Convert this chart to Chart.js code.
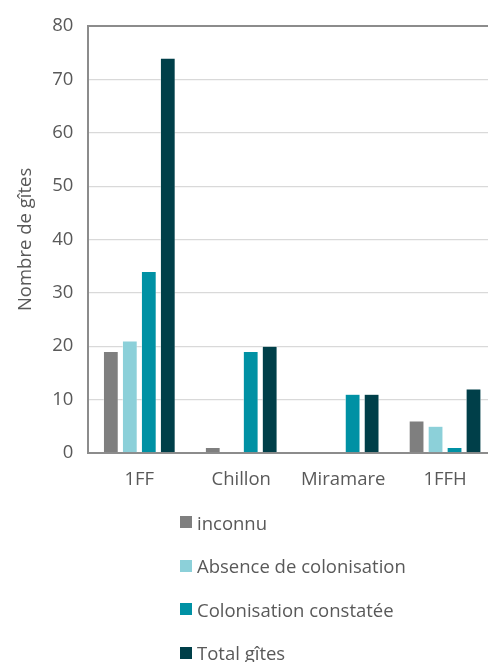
<!DOCTYPE html>
<html>
<head>
<meta charset="utf-8">
<script src="https://cdn.jsdelivr.net/npm/chart.js@4"></script>
<style>
  html, body { margin: 0; padding: 0; background: #fff; overflow: hidden; }
  body { width: 488px; height: 662px; font-family: "Open Sans", sans-serif; position: relative; }
  #wrap { width: 496px; height: 513px; position: absolute; left: 0; top: 0; }
  #legend { list-style: none; margin: 0; padding: 0; position: absolute; left: 180px; top: 509px; }
  #legend li { display: flex; align-items: center; height: 26px; margin-bottom: 17.5px; color: #595959; font-size: 18.5px; }
  #legend span.box { width: 12px; height: 12px; margin-right: 5px; display: inline-block; }
</style>
</head>
<body>
<div id="wrap"><canvas id="chartBars"></canvas></div>
<ul id="legend"></ul>
<script>
const categories = ["1FF", "Chillon", "Miramare", "1FFH"];
const inconnu = [19, 1, 0, 6];
const absence = [21, 0, 0, 5];
const colonisation = [34, 19, 11, 1];
const total = [74, 20, 11, 12];
const seriesNames = ["inconnu", "Absence de colonisation", "Colonisation constatée", "Total gîtes"];
const colors = ["#7f7f7f", "#8cd0d9", "#0091a4", "#003f49"];
const yTicks = [0, 10, 20, 30, 40, 50, 60, 70, 80];

const dataBars = {
    labels: categories,
    datasets: [inconnu, absence, colonisation, total].map((values, i) => ({
        label: seriesNames[i],
        data: values,
        backgroundColor: colors[i],
        borderColor: "#ffffff",
        borderWidth: 0.6,
        categoryPercentage: 0.745,
        barPercentage: 0.79,
    })),
};

const fontMain = { family: "Open Sans", size: 18.5 };

const chart = new Chart(document.getElementById("chartBars"), {
    type: "bar",
    data: dataBars,
    options: {
        responsive: true,
        maintainAspectRatio: false,
        animation: false,
        layout: { padding: { top: 10, left: 15, right: 0, bottom: 6 } },
        plugins: {
            legend: { display: false },
            tooltip: { enabled: false },
        },
        scales: {
            x: {
                grid: { display: false, drawTicks: false },
                border: { color: "#8c8c8c", width: 2 },
                ticks: { color: "#595959", font: fontMain, padding: 16 },
            },
            y: {
                min: 0,
                max: 80,
                afterBuildTicks: (axis) => { axis.ticks = yTicks.map(v => ({ value: v })); },
                grid: {
                    drawTicks: false,
                    color: (ctx) => ctx.tick && ctx.tick.value === 80 ? "#8c8c8c" : "#d9d9d9",
                    lineWidth: (ctx) => ctx.tick && ctx.tick.value === 80 ? 2 : 1.2,
                },
                border: { color: "#8c8c8c", width: 2 },
                ticks: { color: "#595959", font: fontMain, padding: 15 },
                title: {
                    display: true,
                    text: "Nombre de gîtes",
                    color: "#595959",
                    font: fontMain,
                    padding: { top: 0, bottom: 0 },
                },
            },
        },
    },
});

// legend below the chart, stacked vertically like the original
const legendEl = document.getElementById("legend");
chart.data.datasets.forEach(ds => {
    const li = document.createElement("li");
    const box = document.createElement("span");
    box.className = "box";
    box.style.background = ds.backgroundColor;
    li.appendChild(box);
    li.appendChild(document.createTextNode(ds.label));
    legendEl.appendChild(li);
});
</script>
</body>
</html>
